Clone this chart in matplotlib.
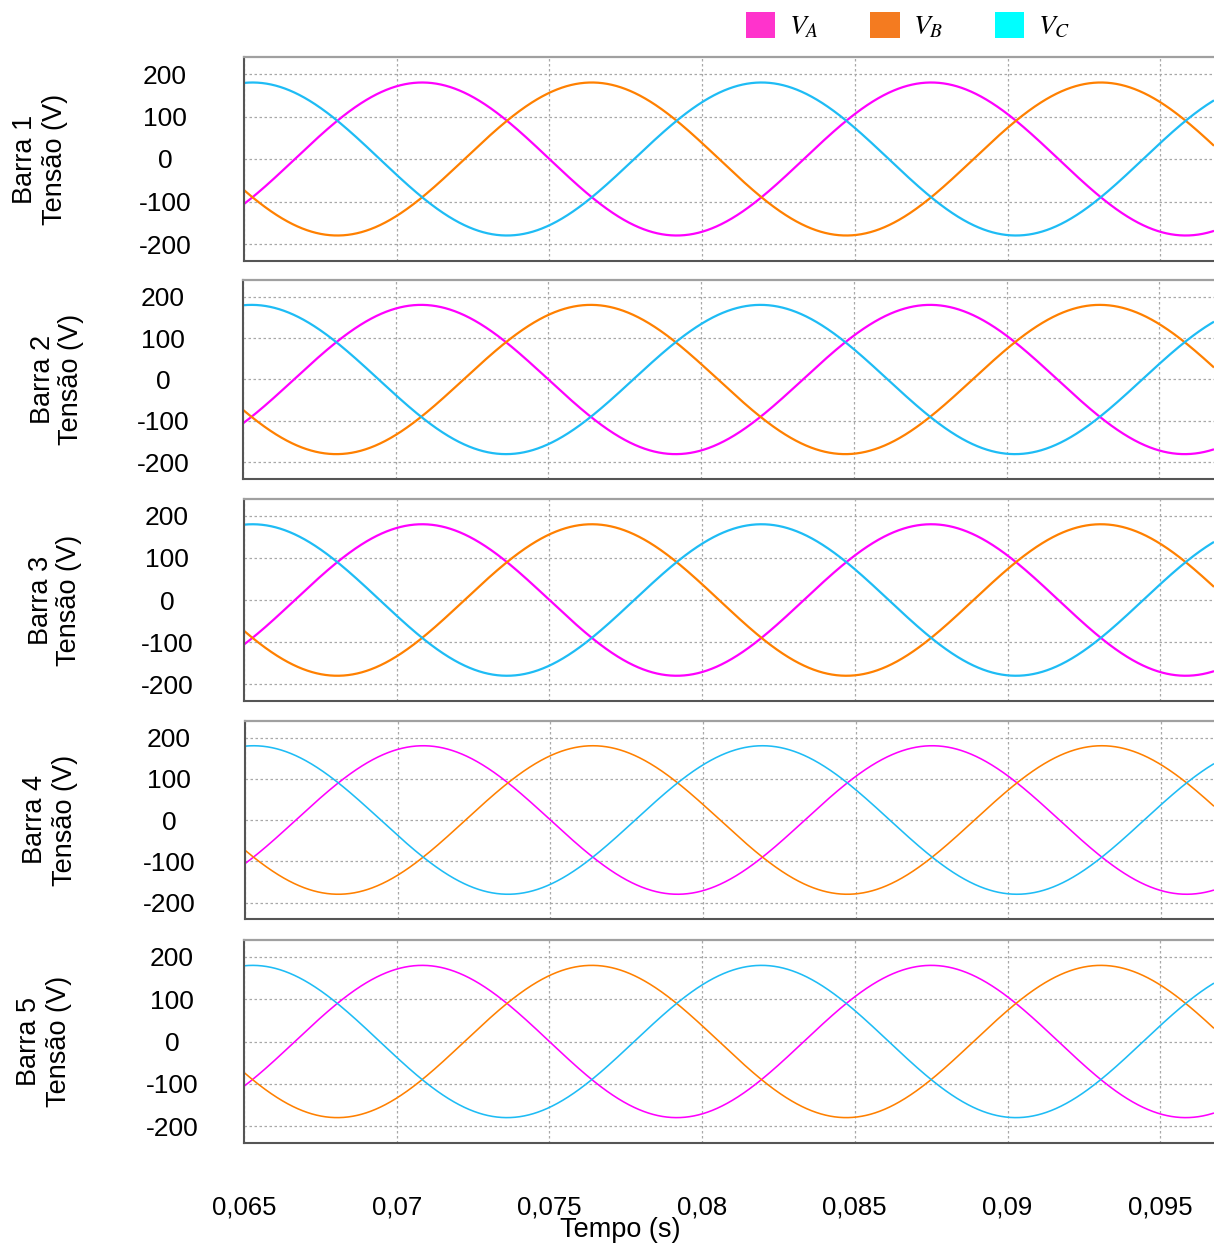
import numpy as np
import matplotlib
matplotlib.use("Agg")
import matplotlib.pyplot as plt
from matplotlib.patches import Patch

plt.rcParams['font.family'] = ['Liberation Sans', 'DejaVu Sans']
plt.rcParams['mathtext.fontset'] = 'stix'

# Three-phase bus voltages (sinusoidal steady state)
BUSES = ["Barra 1", "Barra 2", "Barra 3", "Barra 4", "Barra 5"]
PHASE_NAMES = ["$V_A$", "$V_B$", "$V_C$"]
AMPLITUDE_V = [180, 180, 180, 180, 180]
FREQUENCY_HZ = 60.0
PHASE_DEG = [0.0, -120.0, 120.0]

T_START = 0.065
X_TICKS = [0.065, 0.07, 0.075, 0.08, 0.085, 0.09, 0.095]
X_TICK_LABELS = ["0,065", "0,07", "0,075", "0,08", "0,085", "0,09", "0,095"]
Y_TICKS = [-200, -100, 0, 100, 200]
Y_TICK_LABELS = ["-200", "-100", "0", "100", "200"]

LINE_COLORS = ["#ff00ff", "#ff8000", "#1ebcf5"]
LEGEND_COLORS = ["#ff33cc", "#f47b20", "#00ffff"]
LINE_WIDTHS = [1.6, 1.6, 1.6, 1.15, 1.15]

W, H = 1214, 1243
fig = plt.figure(figsize=(W / 100, H / 100), dpi=100)

# panel boxes in pixels: left, top, bottom
boxes = [(244, 57, 261), (243, 280, 479), (244, 499, 701),
         (245, 721, 919), (244, 940, 1143)]
ylabel_x_px = [40, 57, 55, 50, 44]
ytick_center_px = [165, 163, 167, 169, 172]
px_per_second = 152.7 / 0.005
FS_TICK = 19
FS_LABEL = 19.5
FS_XTICK = 18.5

for i, (left, top, bottom) in enumerate(boxes):
    ax = fig.add_axes([left / W, 1 - bottom / H, (W - left) / W, (bottom - top) / H])
    t_end = T_START + (W - left) / px_per_second
    t = np.linspace(T_START, t_end, 3000)
    for ph, col in zip(PHASE_DEG, LINE_COLORS):
        v = AMPLITUDE_V[i] * np.sin(2 * np.pi * FREQUENCY_HZ * t + np.deg2rad(ph))
        ax.plot(t, v, color=col, lw=LINE_WIDTHS[i], solid_capstyle='butt')
    ax.set_xlim(T_START, t_end)
    ax.set_ylim(-240, 240)

    ax.set_yticks(Y_TICKS)
    ax.set_yticklabels(Y_TICK_LABELS, fontsize=FS_TICK)
    ax.set_xticks(X_TICKS)
    if i == len(boxes) - 1:
        ax.set_xticklabels(X_TICK_LABELS, fontsize=FS_XTICK)
    else:
        ax.set_xticklabels([])
    pad_pt = (left - ytick_center_px[i]) * 72 / 100
    ax.tick_params(axis='y', length=0, pad=pad_pt)
    ax.tick_params(axis='x', length=0, pad=38)
    for lab in ax.yaxis.get_majorticklabels():
        lab.set_horizontalalignment('center')

    ax.grid(True, color='#a8a8a8', linestyle=(0, (2, 2)), lw=0.9)
    ax.set_axisbelow(True)

    ax.spines['right'].set_visible(False)
    ax.spines['top'].set_color('#a0a0a0')
    ax.spines['top'].set_linewidth(1.6)
    for s in ('left', 'bottom'):
        ax.spines[s].set_color('#555555')
        ax.spines[s].set_linewidth(1.5)

    ax.set_ylabel(f"{BUSES[i]}\nTensão (V)", fontsize=FS_LABEL, va='center',
                  linespacing=1.15)
    ax.yaxis.set_label_coords((ylabel_x_px[i] - left) / (W - left), 0.5)

fig.text(620 / W, 1 - 1230 / H, "Tempo (s)", fontsize=FS_LABEL, ha='center', va='center')

handles = [Patch(facecolor=c, edgecolor='none') for c in LEGEND_COLORS]
fig.legend(handles, PHASE_NAMES, loc='upper left',
           bbox_to_anchor=(746 / W, 1 - 12 / H), ncol=3, frameon=False,
           fontsize=20, handlelength=1.05, handleheight=1.05,
           handletextpad=0.5, columnspacing=1.85, borderpad=0,
           borderaxespad=0)

fig.savefig("out.png", dpi=100)
